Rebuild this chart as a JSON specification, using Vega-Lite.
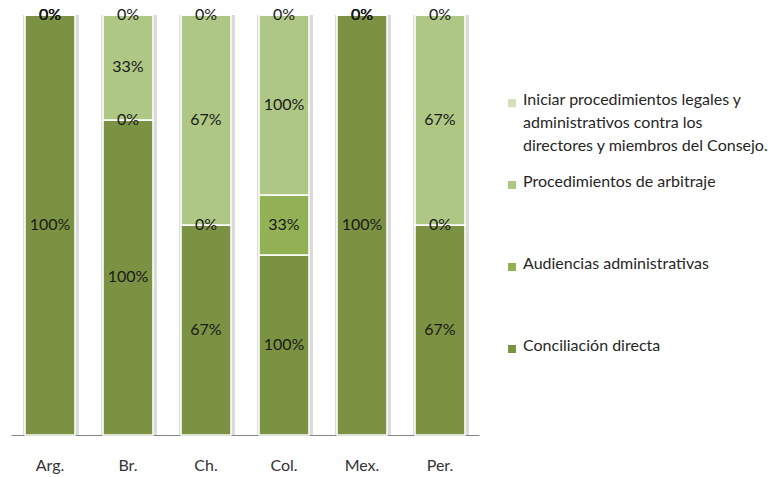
{
  "$schema": "https://vega.github.io/schema/vega-lite/v6.json",
  "autosize": {"type": "none"},
  "width": 468,
  "height": 420,
  "padding": {"left": 11, "top": 15, "right": 289, "bottom": 42},
  "background": "white",
  "config": {"view": {"stroke": null}, "font": "Lato", "style": {"guide-label": {"lineHeight": 23, "dy": 2}}},
  "data": {"values": [
    {"country": "Arg.", "series": "Conciliación directa", "order": 1, "value": 1},
    {"country": "Arg.", "series": "Audiencias administrativas", "order": 2, "value": 0},
    {"country": "Arg.", "series": "Procedimientos de arbitraje", "order": 3, "value": 0},
    {"country": "Arg.", "series": "Iniciar procedimientos legales y administrativos contra los directores y miembros del Consejo.", "order": 4, "value": 0},
    {"country": "Br.", "series": "Conciliación directa", "order": 1, "value": 1},
    {"country": "Br.", "series": "Audiencias administrativas", "order": 2, "value": 0},
    {"country": "Br.", "series": "Procedimientos de arbitraje", "order": 3, "value": 0.3333},
    {"country": "Br.", "series": "Iniciar procedimientos legales y administrativos contra los directores y miembros del Consejo.", "order": 4, "value": 0},
    {"country": "Ch.", "series": "Conciliación directa", "order": 1, "value": 0.6667},
    {"country": "Ch.", "series": "Audiencias administrativas", "order": 2, "value": 0},
    {"country": "Ch.", "series": "Procedimientos de arbitraje", "order": 3, "value": 0.6667},
    {"country": "Ch.", "series": "Iniciar procedimientos legales y administrativos contra los directores y miembros del Consejo.", "order": 4, "value": 0},
    {"country": "Col.", "series": "Conciliación directa", "order": 1, "value": 1},
    {"country": "Col.", "series": "Audiencias administrativas", "order": 2, "value": 0.3333},
    {"country": "Col.", "series": "Procedimientos de arbitraje", "order": 3, "value": 1},
    {"country": "Col.", "series": "Iniciar procedimientos legales y administrativos contra los directores y miembros del Consejo.", "order": 4, "value": 0},
    {"country": "Mex.", "series": "Conciliación directa", "order": 1, "value": 1},
    {"country": "Mex.", "series": "Audiencias administrativas", "order": 2, "value": 0},
    {"country": "Mex.", "series": "Procedimientos de arbitraje", "order": 3, "value": 0},
    {"country": "Mex.", "series": "Iniciar procedimientos legales y administrativos contra los directores y miembros del Consejo.", "order": 4, "value": 0},
    {"country": "Per.", "series": "Conciliación directa", "order": 1, "value": 0.6667},
    {"country": "Per.", "series": "Audiencias administrativas", "order": 2, "value": 0},
    {"country": "Per.", "series": "Procedimientos de arbitraje", "order": 3, "value": 0.6667},
    {"country": "Per.", "series": "Iniciar procedimientos legales y administrativos contra los directores y miembros del Consejo.", "order": 4, "value": 0}
  ]},
  "transform": [
    {"stack": "value", "groupby": ["country"], "sort": [{"field": "order", "order": "ascending"}], "offset": "normalize", "as": ["y0", "y1"]},
    {"calculate": "(datum.y0 + datum.y1) / 2", "as": "ymid"}
  ],
  "encoding": {
    "x": {
      "field": "country", "type": "nominal", "sort": null,
      "scale": {"paddingInner": 0.36, "paddingOuter": 0.18},
      "axis": {"title": null, "labelAngle": 0, "ticks": false, "labelFontSize": 16, "labelColor": "#333333", "labelPadding": 20, "domainColor": "#868686", "domainWidth": 1}
    }
  },
  "layer": [
    {
      "mark": {"type": "bar", "width": 55, "xOffset": 1, "color": "#dadada"},
      "encoding": {
        "y": {"datum": 1, "type": "quantitative", "scale": {"domain": [0, 1], "nice": false, "zero": true}, "axis": null},
        "y2": {"datum": 0}
      }
    },
    {
      "mark": {"type": "bar", "stroke": "white", "strokeWidth": 1.5},
      "encoding": {
        "y": {"field": "y0", "type": "quantitative"},
        "y2": {"field": "y1"},
        "color": {
          "field": "series", "type": "nominal",
          "scale": {
            "domain": ["Iniciar procedimientos legales y administrativos contra los directores y miembros del Consejo.", "Procedimientos de arbitraje", "Audiencias administrativas", "Conciliación directa"],
            "range": ["#D4E2BC", "#AEC785", "#91B154", "#7A9242"]
          },
          "legend": {
            "orient": "none", "legendX": 493, "legendY": 80, "title": null,
            "symbolType": "square", "symbolSize": 64, "symbolStrokeWidth": 0,
            "labelFontSize": 16, "labelColor": "#262626", "labelLimit": 320, "labelOffset": 3,
            "labelBaseline": "alphabetic",
            "gridAlign": "all", "rowPadding": 20,
            "labelExpr": "datum.label == 'Iniciar procedimientos legales y administrativos contra los directores y miembros del Consejo.' ? ['Iniciar procedimientos legales y', 'administrativos contra los', 'directores y miembros del Consejo.'] : datum.label"
          }
        }
      }
    },
    {
      "mark": {"type": "text", "fontSize": 16, "color": "#1a1a1a", "baseline": "middle"},
      "encoding": {
        "y": {"field": "ymid", "type": "quantitative"},
        "text": {"field": "value", "type": "quantitative", "format": ".0%"}
      }
    }
  ]
}
